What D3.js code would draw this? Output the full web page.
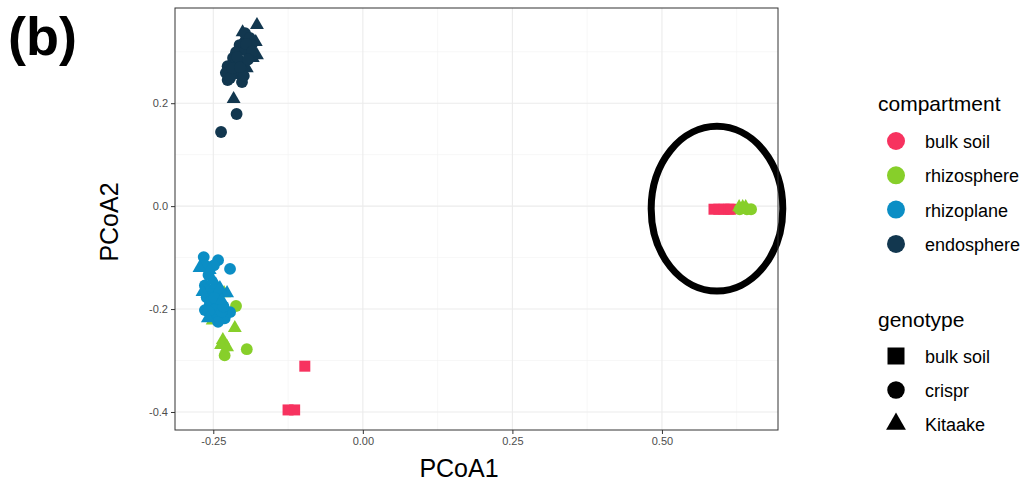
<!DOCTYPE html>
<html>
<head>
<meta charset="utf-8">
<script src="https://cdn.jsdelivr.net/npm/d3@7"></script>
<style>
  body { margin: 0; background: white; }
  svg { display: block; font-family: Arial, "Liberation Sans", sans-serif; }
</style>
</head>
<body>
<div id="chart"></div>
<script>
// PCoA scores: [PCoA1, PCoA2, genotype]
const bulkSoil = [
  [0.587, -0.006, "bulk soil"], [0.595, -0.006, "bulk soil"], [0.604, -0.006, "bulk soil"],
  [0.612, -0.006, "bulk soil"], [0.615, -0.006, "bulk soil"],
  [-0.097, -0.311, "bulk soil"], [-0.125, -0.396, "bulk soil"], [-0.114, -0.396, "bulk soil"]
];
const rhizosphere = [
  [-0.251, -0.222, "Kitaake"], [-0.232, -0.169, "Kitaake"],
  [-0.212, -0.194, "crispr"], [-0.194, -0.278, "crispr"], [-0.231, -0.290, "crispr"],
  [-0.214, -0.237, "Kitaake"], [-0.234, -0.260, "Kitaake"], [-0.227, -0.274, "Kitaake"],
  [-0.237, -0.270, "Kitaake"],
  [0.629, -0.002, "Kitaake"], [0.635, -0.002, "Kitaake"], [0.640, -0.002, "Kitaake"],
  [0.630, -0.006, "crispr"], [0.637, -0.004, "crispr"], [0.642, -0.006, "crispr"],
  [0.649, -0.006, "crispr"]
];
const rhizoplane = [
  [-0.266, -0.099, "crispr"], [-0.242, -0.105, "crispr"], [-0.249, -0.115, "crispr"],
  [-0.222, -0.122, "crispr"], [-0.264, -0.115, "crispr"], [-0.258, -0.134, "crispr"],
  [-0.264, -0.154, "crispr"], [-0.253, -0.163, "crispr"], [-0.261, -0.177, "crispr"],
  [-0.242, -0.173, "crispr"], [-0.256, -0.192, "crispr"], [-0.239, -0.192, "crispr"],
  [-0.264, -0.202, "crispr"], [-0.249, -0.212, "crispr"], [-0.231, -0.218, "crispr"],
  [-0.242, -0.225, "crispr"], [-0.222, -0.206, "crispr"],
  [-0.255, -0.185, "crispr"], [-0.246, -0.200, "crispr"], [-0.236, -0.205, "crispr"],
  [-0.258, -0.205, "crispr"], [-0.248, -0.178, "crispr"], [-0.233, -0.195, "crispr"],
  [-0.273, -0.120, "Kitaake"], [-0.256, -0.124, "Kitaake"], [-0.227, -0.169, "Kitaake"],
  [-0.246, -0.152, "Kitaake"], [-0.268, -0.167, "Kitaake"], [-0.236, -0.183, "Kitaake"],
  [-0.259, -0.218, "Kitaake"], [-0.251, -0.144, "Kitaake"], [-0.239, -0.159, "Kitaake"]
];
const endosphere = [
  [-0.177, 0.352, "Kitaake"], [-0.216, 0.208, "Kitaake"], [-0.189, 0.303, "Kitaake"],
  [-0.179, 0.319, "Kitaake"], [-0.199, 0.323, "Kitaake"], [-0.184, 0.288, "Kitaake"],
  [-0.206, 0.284, "Kitaake"], [-0.194, 0.268, "Kitaake"], [-0.222, 0.274, "Kitaake"],
  [-0.209, 0.255, "Kitaake"], [-0.177, 0.293, "Kitaake"], [-0.201, 0.338, "Kitaake"],
  [-0.237, 0.144, "crispr"], [-0.211, 0.179, "crispr"], [-0.226, 0.245, "crispr"],
  [-0.202, 0.241, "crispr"], [-0.197, 0.336, "crispr"], [-0.189, 0.327, "crispr"],
  [-0.206, 0.313, "crispr"], [-0.212, 0.299, "crispr"], [-0.196, 0.303, "crispr"],
  [-0.217, 0.288, "crispr"], [-0.226, 0.272, "crispr"], [-0.214, 0.264, "crispr"],
  [-0.202, 0.260, "crispr"], [-0.229, 0.259, "crispr"], [-0.207, 0.280, "crispr"],
  [-0.186, 0.313, "crispr"], [-0.199, 0.253, "crispr"], [-0.222, 0.249, "crispr"],
  [-0.195, 0.315, "crispr"], [-0.185, 0.300, "crispr"], [-0.210, 0.290, "crispr"],
  [-0.218, 0.268, "crispr"], [-0.205, 0.270, "crispr"], [-0.192, 0.285, "crispr"]
];

const compartments = ["bulk soil", "rhizosphere", "rhizoplane", "endosphere"];
const compartmentColors = ["#f7325f", "#87cf2a", "#0b8ec5", "#12374f"];
const genotypes = ["bulk soil", "crispr", "Kitaake"];
const xTicks = [-0.25, 0, 0.25, 0.5];
const yTicks = [-0.4, -0.2, 0, 0.2];
const xMinor = [-0.125, 0.125, 0.375, 0.625];
const yMinor = [-0.3, -0.1, 0.1, 0.3];
// circled annotation: centre and radii in data units
const ellipseCenter = [0.592, -0.005];
const ellipseRadii = [0.110, 0.160];

const W = 1028, H = 481;
const panel = {left: 175, right: 778, top: 8, bottom: 430};

const svg = d3.select("#chart").append("svg")
    .attr("width", W)
    .attr("height", H);

svg.append("rect").attr("width", W).attr("height", H).attr("fill", "white");

const x = d3.scaleLinear().domain([-0.314, 0.694]).range([panel.left, panel.right]);
const y = d3.scaleLinear().domain([-0.435, 0.385]).range([panel.bottom, panel.top]);
const color = d3.scaleOrdinal().domain(compartments).range(compartmentColors);
const shape = d3.scaleOrdinal().domain(genotypes)
    .range([d3.symbolSquare, d3.symbolCircle, d3.symbolTriangle]);
const pointSize = {"bulk soil": 121, "crispr": 110, "Kitaake": 84};

// grid lines
const grid = svg.append("g");
grid.selectAll(".vminor").data(xMinor).join("line")
    .attr("x1", d => x(d)).attr("x2", d => x(d))
    .attr("y1", panel.top).attr("y2", panel.bottom)
    .attr("stroke", "#f2f2f2").attr("stroke-width", 0.6);
grid.selectAll(".hminor").data(yMinor).join("line")
    .attr("y1", d => y(d)).attr("y2", d => y(d))
    .attr("x1", panel.left).attr("x2", panel.right)
    .attr("stroke", "#f2f2f2").attr("stroke-width", 0.6);
grid.selectAll(".vmajor").data(xTicks).join("line")
    .attr("x1", d => x(d)).attr("x2", d => x(d))
    .attr("y1", panel.top).attr("y2", panel.bottom)
    .attr("stroke", "#ebebeb").attr("stroke-width", 1.1);
grid.selectAll(".hmajor").data(yTicks).join("line")
    .attr("y1", d => y(d)).attr("y2", d => y(d))
    .attr("x1", panel.left).attr("x2", panel.right)
    .attr("stroke", "#ebebeb").attr("stroke-width", 1.1);

// points, drawn group by group
const groups = [bulkSoil, rhizosphere, rhizoplane, endosphere];
groups.forEach((rows, i) => {
    svg.append("g").selectAll("path").data(rows).join("path")
        .attr("transform", d => `translate(${x(d[0])},${y(d[1])})`)
        .attr("d", d => d3.symbol().type(shape(d[2])).size(pointSize[d[2]])())
        .attr("fill", color(compartments[i]));
});

// annotation ellipse
svg.append("ellipse")
    .attr("cx", x(ellipseCenter[0]))
    .attr("cy", y(ellipseCenter[1]))
    .attr("rx", x(ellipseCenter[0] + ellipseRadii[0]) - x(ellipseCenter[0]))
    .attr("ry", y(ellipseCenter[1]) - y(ellipseCenter[1] + ellipseRadii[1]))
    .attr("fill", "none")
    .attr("stroke", "black")
    .attr("stroke-width", 7);

// panel border
svg.append("rect")
    .attr("x", panel.left).attr("y", panel.top)
    .attr("width", panel.right - panel.left)
    .attr("height", panel.bottom - panel.top)
    .attr("fill", "none").attr("stroke", "#333333").attr("stroke-width", 1);

// axes
const xAxis = svg.append("g")
    .attr("transform", `translate(0,${panel.bottom})`)
    .call(d3.axisBottom(x).tickValues(xTicks).tickSize(4).tickPadding(3)
        .tickFormat(d => d.toFixed(2)));
const yAxis = svg.append("g")
    .attr("transform", `translate(${panel.left},0)`)
    .call(d3.axisLeft(y).tickValues(yTicks).tickSize(4).tickPadding(3)
        .tickFormat(d => d.toFixed(1)));
[xAxis, yAxis].forEach(ax => {
    ax.select(".domain").remove();
    ax.selectAll(".tick line").attr("stroke", "#333333");
    ax.selectAll(".tick text")
        .style("font-family", "Arial, 'Liberation Sans', sans-serif")
        .style("font-size", "11px")
        .attr("fill", "#4d4d4d");
});

// axis titles
svg.append("text")
    .attr("x", 459).attr("y", 477)
    .attr("text-anchor", "middle")
    .style("font-size", "25px")
    .text("PCoA1");
svg.append("text")
    .attr("transform", "translate(118,222) rotate(-90)")
    .attr("text-anchor", "middle")
    .style("font-size", "25px")
    .text("PCoA2");

// panel tag
svg.append("text")
    .attr("x", 8).attr("y", 55)
    .style("font-size", "54px")
    .style("font-weight", "bold")
    .text("(b)");

// legends
const legendX = 878;
svg.append("text")
    .attr("x", legendX).attr("y", 111)
    .style("font-size", "21px")
    .text("compartment");
const compLegend = svg.append("g").selectAll("g").data(compartments).join("g")
    .attr("transform", (d, i) => `translate(${legendX + 18},${141 + i * 34.3})`);
compLegend.append("circle")
    .attr("r", 9)
    .attr("fill", d => color(d));
compLegend.append("text")
    .attr("x", 29).attr("y", 7)
    .style("font-size", "18px")
    .text(d => d);

svg.append("text")
    .attr("x", legendX).attr("y", 327)
    .style("font-size", "21px")
    .text("genotype");
const legendSize = {"bulk soil": 289, "crispr": 240, "Kitaake": 170};
const genoLegend = svg.append("g").selectAll("g").data(genotypes).join("g")
    .attr("transform", (d, i) => `translate(${legendX + 18},${356 + i * 34})`);
genoLegend.append("path")
    .attr("d", d => d3.symbol().type(shape(d)).size(legendSize[d])())
    .attr("fill", "black");
genoLegend.append("text")
    .attr("x", 29).attr("y", 7)
    .style("font-size", "18px")
    .text(d => d);
</script>
</body>
</html>
